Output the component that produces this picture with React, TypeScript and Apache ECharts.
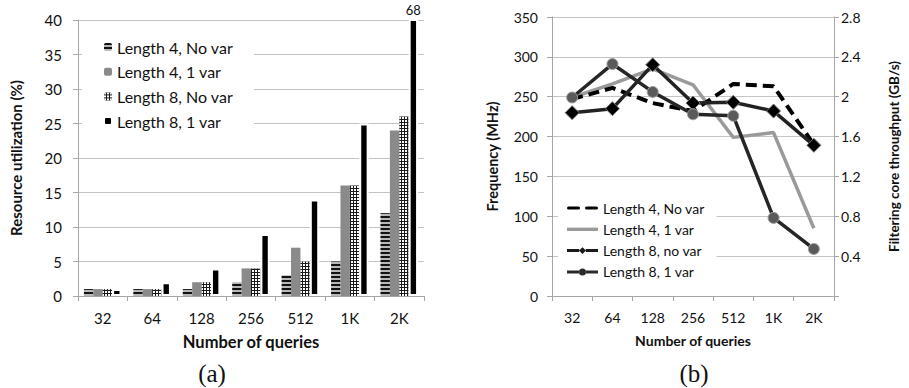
import React, { useEffect, useRef } from 'react';
import * as echarts from 'echarts';

// ---------- data ----------
const categories = ['32', '64', '128', '256', '512', '1K', '2K'];

// (a) resource utilization (%)
const barNames = ['Length 4, No var', 'Length 4, 1 var', 'Length 8, No var', 'Length 8, 1 var'];
const utilL4NoVar = [1, 1, 1, 2, 3, 5, 12];
const utilL4OneVar = [1, 1, 2, 4, 7, 16, 24];
const utilL8NoVar = [1, 1, 2, 4, 5, 16, 26];
const utilL8OneVar = [1, 2, 4, 9, 14, 25, 68];
const utilMax = 40;
const utilStep = 5;

// (b) frequency (MHz)
const lineNames = ['Length 4, No var', 'Length 4, 1 var', 'Length 8, no var', 'Length 8, 1 var'];
const freqL4NoVar = [247, 261, 242, 232, 266, 263, 190];
const freqL4OneVar = [249, 266, 285, 265, 199, 205, 85];
const freqL8NoVar = [230, 235, 290, 242, 243, 232, 189];
const freqL8OneVar = [249, 291, 256, 228, 226, 98, 59];
const freqMax = 350;
const freqStep = 50;
const thrMax = 2.8;
const thrStep = 0.4;

const FONT = 'Lato, "Noto Sans", sans-serif';
const AXIS = '#a6a6a6';
const GRID = '#c4c4c4';
const TXT = '#111';

// legend glyphs (line samples) for panel (b)
const ICON_DASH = 'path://M1.5,2.5H11.5A1.5,1.5 0 0 1 11.5,5.5H1.5A1.5,1.5 0 0 1 1.5,2.5Z M19.5,2.5H29.5A1.5,1.5 0 0 1 29.5,5.5H19.5A1.5,1.5 0 0 1 19.5,2.5Z';
const ICON_LINE = 'path://M0,2.3H31V5.7H0Z';
const ICON_DIAMOND = 'path://M0,2.5H12.2V5.5H0Z M18.8,2.5H31V5.5H18.8Z M15.5,0.6L18.9,4L15.5,7.4L12.1,4Z';
const ICON_CIRCLE = 'path://M0,2.5H12.2V5.5H0Z M18.8,2.5H31V5.5H18.8Z M12,4A3.5,3.5 0 1 0 19,4A3.5,3.5 0 1 0 12,4Z';

function leftOption(): any {
  return {
    animation: false,
    textStyle: { fontFamily: FONT, color: TXT },
    grid: { left: 68, top: 20, width: 356, height: 276 },
    legend: {
      orient: 'vertical',
      left: 82,
      top: 30,
      padding: [9, 21, 6, 21],
      backgroundColor: '#fff',
      itemWidth: 8,
      itemHeight: 8,
      itemGap: 8.7,
      textStyle: { fontSize: 16, color: TXT, fontFamily: FONT },
      data: barNames,
    },
    xAxis: {
      type: 'category',
      data: categories,
      z: 5,
      axisLine: { lineStyle: { color: AXIS, width: 1 } },
      axisTick: { show: true, length: 5, lineStyle: { color: AXIS } },
      axisLabel: { fontSize: 15, color: TXT, margin: 14, fontFamily: FONT },
      name: 'Number of queries',
      nameLocation: 'middle',
      nameGap: 37,
      nameTextStyle: { fontSize: 16.5, fontWeight: 'bold', color: TXT, fontFamily: FONT },
    },
    yAxis: {
      type: 'value',
      min: 0,
      max: utilMax,
      interval: utilStep,
      axisLine: { show: true, lineStyle: { color: AXIS } },
      axisTick: { show: true, length: 5, lineStyle: { color: AXIS } },
      splitLine: { lineStyle: { color: GRID } },
      axisLabel: { fontSize: 15, color: TXT, margin: 16, fontFamily: FONT },
      name: 'Resource utilization (%)',
      nameLocation: 'middle',
      nameGap: 55,
      nameTextStyle: { fontSize: 15, fontWeight: 'bold', color: TXT, fontFamily: FONT },
    },
    graphic: [
      {
        type: 'text',
        x: 212,
        y: 373,
        style: {
          text: '(a)',
          fontSize: 25,
          fontFamily: '"Liberation Serif", serif',
          fill: TXT,
          align: 'center',
          verticalAlign: 'middle',
        },
      },
    ],
    series: [
      {
        name: barNames[0],
        type: 'bar',
        data: utilL4NoVar,
        barGap: '0%',
        barCategoryGap: '24%',
        itemStyle: {
          color: '#b8b8b8',
          decal: { symbol: 'rect', symbolSize: 1, color: '#111', dashArrayX: [1, 0], dashArrayY: [2, 2], rotation: 0 },
        },
      },
      {
        name: barNames[1],
        type: 'bar',
        data: utilL4OneVar,
        barGap: '0%',
        barCategoryGap: '24%',
        itemStyle: { color: '#8a8a8a' },
      },
      {
        name: barNames[2],
        type: 'bar',
        data: utilL8NoVar,
        barGap: '0%',
        barCategoryGap: '24%',
        itemStyle: {
          color: '#1a1a1a',
          decal: { symbol: 'rect', symbolSize: 1, color: '#fff', dashArrayX: [2, 1], dashArrayY: [2, 1], rotation: 0 },
        },
      },
      {
        name: barNames[3],
        type: 'bar',
        barGap: '0%',
        barCategoryGap: '24%',
        clip: true,
        data: utilL8OneVar.map((v) =>
          v > utilMax
            ? { value: v, label: { show: true, position: 'top', distance: 3, fontSize: 13, color: TXT, fontFamily: FONT } }
            : v
        ),
        itemStyle: { color: '#000', borderColor: '#fff', borderWidth: 2 },
      },
    ],
  };
}

function rightOption(): any {
  const iconStyle = (color: string) => ({ color, borderWidth: 0, borderColor: color });
  return {
    animation: false,
    textStyle: { fontFamily: FONT, color: TXT },
    grid: { left: 98, top: 17, width: 294, height: 279 },
    legend: {
      orient: 'vertical',
      left: 104,
      top: 195,
      padding: [6, 12, 6, 9],
      backgroundColor: '#fff',
      itemWidth: 31,
      itemHeight: 8,
      itemGap: 7.3,
      textStyle: { fontSize: 14, color: TXT, fontFamily: FONT },
      data: [
        { name: lineNames[0], icon: ICON_DASH, itemStyle: iconStyle('#000') },
        { name: lineNames[1], icon: ICON_LINE, itemStyle: iconStyle('#9a9a9a') },
        { name: lineNames[2], icon: ICON_DIAMOND, itemStyle: iconStyle('#1a1a1a') },
        { name: lineNames[3], icon: ICON_CIRCLE, itemStyle: iconStyle('#2a2a2a') },
      ],
    },
    xAxis: {
      type: 'category',
      data: categories,
      axisLine: { lineStyle: { color: AXIS, width: 1 } },
      axisTick: { show: true, length: 5, lineStyle: { color: AXIS } },
      axisLabel: { fontSize: 14, color: TXT, margin: 14, fontFamily: FONT },
      name: 'Number of queries',
      nameLocation: 'middle',
      nameGap: 37,
      nameTextStyle: { fontSize: 14, fontWeight: 'bold', color: TXT, fontFamily: FONT },
    },
    yAxis: [
      {
        type: 'value',
        min: 0,
        max: freqMax,
        interval: freqStep,
        axisLine: { show: true, lineStyle: { color: AXIS } },
        axisTick: { show: true, length: 5, lineStyle: { color: AXIS } },
        splitLine: { lineStyle: { color: GRID } },
        axisLabel: { fontSize: 14, color: TXT, margin: 14, fontFamily: FONT },
        name: 'Frequency (MHz)',
        nameLocation: 'middle',
        nameGap: 52,
        nameTextStyle: { fontSize: 14.5, fontWeight: 'bold', color: TXT, fontFamily: FONT },
      },
      {
        type: 'value',
        position: 'right',
        min: 0,
        max: thrMax,
        interval: thrStep,
        axisLine: { show: true, lineStyle: { color: AXIS } },
        axisTick: { show: true, length: 5, lineStyle: { color: AXIS } },
        splitLine: { show: false },
        axisLabel: {
          fontSize: 14,
          color: TXT,
          margin: 7,
          fontFamily: FONT,
          formatter: (v: number) => (v === 0 ? '' : String(+v.toFixed(1))),
        },
        name: 'Filtering core throughput (GB/s)',
        nameLocation: 'middle',
        nameGap: 53,
        nameTextStyle: { fontSize: 13.5, fontWeight: 'bold', color: TXT, fontFamily: FONT },
      },
    ],
    graphic: [
      {
        type: 'text',
        x: 240,
        y: 373,
        style: {
          text: '(b)',
          fontSize: 25,
          fontFamily: '"Liberation Serif", serif',
          fill: TXT,
          align: 'center',
          verticalAlign: 'middle',
        },
      },
    ],
    series: [
      {
        name: lineNames[0],
        type: 'line',
        data: freqL4NoVar,
        symbol: 'none',
        itemStyle: { color: '#000' },
        lineStyle: { color: '#000', width: 4, type: [11, 6], cap: 'butt' },
        z: 3,
      },
      {
        name: lineNames[1],
        type: 'line',
        data: freqL4OneVar,
        symbol: 'none',
        itemStyle: { color: '#9a9a9a' },
        lineStyle: { color: '#9a9a9a', width: 3.5 },
        z: 2,
      },
      {
        name: lineNames[2],
        type: 'line',
        data: freqL8NoVar,
        symbol: 'diamond',
        symbolSize: 14,
        itemStyle: { color: '#000', borderColor: '#777', borderWidth: 1 },
        lineStyle: { color: '#222', width: 3.5 },
        z: 4,
      },
      {
        name: lineNames[3],
        type: 'line',
        data: freqL8OneVar,
        symbol: 'circle',
        symbolSize: 11,
        itemStyle: { color: '#5a5a5a', borderColor: '#a0a0a0', borderWidth: 1 },
        lineStyle: { color: '#262626', width: 3.5 },
        z: 4,
      },
    ],
  };
}

function Chart({ option, left, width }: { option: () => any; left: number; width: number }) {
  const ref = useRef<HTMLDivElement>(null);
  useEffect(() => {
    if (!ref.current) return;
    const chart = echarts.init(ref.current, undefined, { renderer: 'svg' });
    chart.setOption(option());
    return () => chart.dispose();
  }, [option]);
  return <div ref={ref} style={{ position: 'absolute', left, top: 0, width, height: 388 }} />;
}

export default function App() {
  return (
    <div style={{ position: 'absolute', left: 0, top: 0, width: 909, height: 388, background: '#fff', overflow: 'hidden' }}>
      <Chart option={leftOption} left={0} width={454} />
      <Chart option={rightOption} left={454} width={455} />
    </div>
  );
}
